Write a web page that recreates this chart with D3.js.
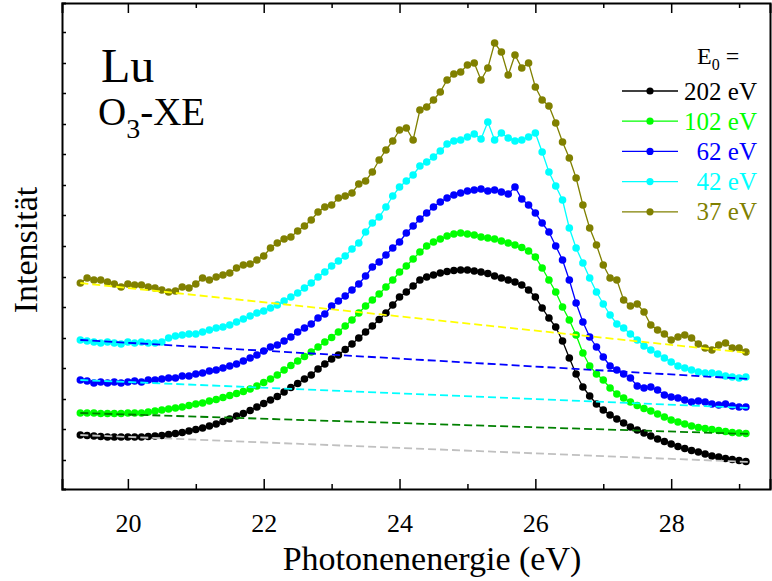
<!DOCTYPE html>
<meta charset="utf-8">
<style>
body { margin: 0; background: #fff; }
text { font-family: "Liberation Serif", "Times New Roman", serif; }
.axis path, .axis line { fill: none; stroke: #000; }
</style>
<div id="chart"></div>
<script src="https://cdn.jsdelivr.net/npm/d3@7/dist/d3.min.js"></script>
<script>

// photon energies (eV) of the sampled points
var energy = [19.3, 19.4, 19.5, 19.6, 19.7, 19.8, 19.9, 20.0, 20.1, 20.2,
  20.3, 20.4, 20.5, 20.6, 20.7, 20.8, 20.9, 21.0, 21.1, 21.2,
  21.3, 21.4, 21.5, 21.6, 21.7, 21.8, 21.9, 22.0, 22.1, 22.2,
  22.3, 22.4, 22.5, 22.6, 22.7, 22.8, 22.9, 23.0, 23.1, 23.2,
  23.3, 23.4, 23.5, 23.6, 23.7, 23.8, 23.9, 24.0, 24.1, 24.2,
  24.3, 24.4, 24.5, 24.6, 24.7, 24.8, 24.9, 25.0, 25.1, 25.2,
  25.3, 25.4, 25.5, 25.6, 25.7, 25.8, 25.9, 26.0, 26.1, 26.2,
  26.3, 26.4, 26.5, 26.6, 26.7, 26.8, 26.9, 27.0, 27.1, 27.2,
  27.3, 27.4, 27.5, 27.6, 27.7, 27.8, 27.9, 28.0, 28.1, 28.2,
  28.3, 28.4, 28.5, 28.6, 28.7, 28.8, 28.9, 29.0, 29.1];

// intensity (arb. units, curves offset as in the figure)
var i202 = [55, 54.5, 54, 53.5, 53, 53, 53, 53, 53, 53,
  53.5, 54, 54.5, 55.5, 56.5, 57.5, 59, 60.5, 62, 64,
  66, 68.5, 71, 74, 76.5, 79.5, 83, 86.5, 90, 93.5,
  98, 102.5, 106.5, 111, 115, 121, 126, 131, 135, 140.5,
  146, 152, 158, 164, 170.5, 177, 185, 193, 198, 204,
  210, 213, 215, 217, 218.5, 219.5, 220, 220, 219, 218,
  216.5, 214, 212, 210, 208, 205, 200, 193, 182, 172,
  163, 149, 132, 116, 103, 94, 86, 80, 75, 71,
  67, 63, 60, 57, 54, 51, 48.5, 46, 43.5, 41.5,
  39.5, 38, 36, 34, 33, 31.5, 30.5, 29.5, 28.5];

var i102 = [77, 77, 77, 76.5, 76.5, 76.5, 76.5, 77, 77, 77,
  78, 79, 80, 81, 82, 83, 84.5, 86, 87, 89,
  90.5, 92.5, 94.5, 96.5, 98.5, 101, 104, 107.5, 111, 115,
  120, 124.5, 129, 133.5, 138, 143, 148, 152.5, 158, 164,
  170, 177, 184, 190, 196, 203, 210, 218, 224, 231,
  238, 244, 248, 251, 254, 256, 257, 256, 255, 253,
  252, 251, 249, 247, 245, 242.5, 239, 233, 222, 210,
  198, 183, 170, 155, 137, 124, 116, 110, 102, 96,
  92, 88, 84.5, 81.5, 79, 76, 73, 70, 68, 66,
  64, 62.5, 61.5, 60.5, 59.5, 58.5, 57.5, 57, 56.5];

var i62 = [110, 109, 107, 108, 107, 108, 107, 108, 109, 108,
  110, 110, 111, 112, 112, 114, 114, 116, 117, 119,
  120, 122, 124, 126, 129, 132, 135, 139, 143, 145,
  149, 153, 158, 162, 166, 172, 176, 184, 189, 194,
  200, 206, 214, 223, 228, 235, 242, 248, 257, 264,
  271, 277, 283, 288, 292, 295, 297, 299, 300, 301,
  299, 300, 298, 296, 303, 291, 285, 277, 267, 258,
  244, 230, 210, 187, 168, 153, 143, 133, 124, 120,
  116, 112, 104, 102, 103, 100, 95, 93, 92, 90,
  88, 89, 88, 86, 85, 86, 84, 83, 83];

var i42 = [150, 149, 148, 147, 148, 147, 146, 148, 147, 148,
  147, 147, 148, 152, 154, 155, 156, 156, 158, 160,
  162, 163, 165, 168, 171, 174, 177, 179, 182, 185,
  189, 193, 197, 202, 207, 213, 218, 224, 229, 234,
  241, 247, 258, 267, 273, 283, 294, 303, 309, 315,
  324, 328, 333, 339, 346, 349, 350, 353, 356, 351,
  368, 350, 357, 352, 349, 350, 353, 357, 338, 318,
  304, 290, 262, 242, 227, 212, 198, 186, 175, 166,
  162, 156, 150, 144, 140, 136, 132, 128, 124, 122,
  120, 118, 117, 117, 116, 114, 113, 112, 113];

var i37 = [207, 212, 210, 210, 208, 206, 203, 206, 205, 205,
  203, 202, 200, 198, 199, 203, 202, 206, 212, 210,
  213, 215, 217, 222, 225, 226, 230, 234, 242, 247,
  251, 253, 259, 264, 270, 278, 283, 285, 292, 294,
  297, 306, 309, 318, 330, 340, 349, 360, 362, 350,
  380, 383, 390, 398, 410, 416, 418, 425, 427, 410,
  422, 447, 438, 415, 435, 422, 427, 403, 390, 384,
  367, 348, 332, 312, 285, 262, 245, 225, 212, 210,
  190, 184, 186, 178, 165, 160, 156, 150, 153, 155,
  152, 146, 142, 140, 145, 147, 142, 142, 138];

// linear backgrounds: [start energy, start value, end energy, end value]
var bg202 = [19.3, 55, 29.15, 28];
var bg102 = [19.3, 77, 29.15, 56];
var bg62 = [19.3, 110, 29.15, 82];
var bg42 = [19.3, 150, 29.15, 111];
var bg37 = [19.3, 207, 29.15, 137];

var legendLabels = ["202 eV", "102 eV", "62 eV", "42 eV", "37 eV"];
var xTicks = [20, 22, 24, 26, 28];
var xMinor = [21, 23, 25, 27, 29];
var yTicks = [30, 61, 91, 122, 152, 183, 213, 244, 275, 305, 336, 366, 397, 427, 458];

var series = [
  {label: legendLabels[4], values: i37, bg: bg37, color: "#808000", bgColor: "#ffff00"},
  {label: legendLabels[3], values: i42, bg: bg42, color: "#00ffff", bgColor: "#0000ff"},
  {label: legendLabels[2], values: i62, bg: bg62, color: "#0000ff", bgColor: "#00ffff"},
  {label: legendLabels[1], values: i102, bg: bg102, color: "#00ff00", bgColor: "#008000"},
  {label: legendLabels[0], values: i202, bg: bg202, color: "#000000", bgColor: "#c0c0c0"}
];

var width = 772, height = 581;
var svg = d3.select("#chart").append("svg")
  .attr("width", width)
  .attr("height", height);

var x = d3.scaleLinear().domain([19.03, 29.455]).range([62, 770]);
var y = d3.scaleLinear().domain([1, 487]).range([489, 3]);

// curves
var line = d3.line()
  .x(function(d) { return x(d[0]); })
  .y(function(d) { return y(d[1]); });

series.forEach(function(s) {
  var pts = energy.map(function(e, i) { return [e, s.values[i]]; });
  var g = svg.append("g");
  g.append("path")
    .datum(pts)
    .attr("d", line)
    .attr("fill", "none")
    .attr("stroke", s.color)
    .attr("stroke-width", 1.3);
  g.selectAll("circle")
    .data(pts)
    .enter().append("circle")
      .attr("cx", function(d) { return x(d[0]); })
      .attr("cy", function(d) { return y(d[1]); })
      .attr("r", 3.8)
      .attr("fill", s.color);
});

// dashed backgrounds on top
series.forEach(function(s) {
  svg.append("line")
    .attr("x1", x(s.bg[0])).attr("y1", y(s.bg[1]))
    .attr("x2", x(s.bg[2])).attr("y2", y(s.bg[3]))
    .attr("stroke", s.bgColor)
    .attr("stroke-width", 1.8)
    .attr("stroke-dasharray", "8,4");
});

// axes
svg.append("g")
  .attr("class", "axis")
  .attr("transform", "translate(0,489)")
  .call(d3.axisBottom(x).tickValues(xTicks).tickSize(-10).tickPadding(25).tickFormat(d3.format("d")))
  .call(function(g) {
    g.attr("font-family", null);
    g.select(".domain").attr("stroke-width", 2);
    g.selectAll(".tick line").attr("stroke-width", 1.5);
    g.selectAll("text").attr("font-size", 26).attr("fill", "#000");
  });

svg.append("g")
  .attr("class", "axis")
  .attr("transform", "translate(0,489)")
  .call(d3.axisBottom(x).tickValues(xMinor).tickSize(-5).tickFormat(""))
  .call(function(g) { g.select(".domain").remove(); g.selectAll(".tick line").attr("stroke-width", 1.5); });

svg.append("g")
  .attr("class", "axis")
  .attr("transform", "translate(0,3)")
  .call(d3.axisTop(x).tickValues(xTicks).tickSize(-10).tickFormat(""))
  .call(function(g) {
    g.select(".domain").attr("stroke-width", 2);
    g.selectAll(".tick line").attr("stroke-width", 1.5);
  });

svg.append("g")
  .attr("class", "axis")
  .attr("transform", "translate(0,3)")
  .call(d3.axisTop(x).tickValues(xMinor).tickSize(-5).tickFormat(""))
  .call(function(g) { g.select(".domain").remove(); g.selectAll(".tick line").attr("stroke-width", 1.5); });

svg.append("g")
  .attr("class", "axis")
  .attr("transform", "translate(62,0)")
  .call(d3.axisLeft(y).tickValues(yTicks).tickSize(-4).tickFormat(""))
  .call(function(g) {
    g.select(".domain").attr("stroke-width", 2);
    g.selectAll(".tick line").attr("stroke-width", 1.5);
  });

svg.append("g")
  .attr("class", "axis")
  .attr("transform", "translate(770,0)")
  .call(d3.axisRight(y).tickValues([]).tickSize(0))
  .call(function(g) { g.select(".domain").attr("stroke-width", 2); });

// axis titles
svg.append("text")
  .attr("x", 432).attr("y", 570)
  .attr("text-anchor", "middle")
  .attr("font-size", 34)
  .text("Photonenenergie (eV)");

svg.append("text")
  .attr("transform", "translate(37,250) rotate(-90)")
  .attr("text-anchor", "middle")
  .attr("font-size", 34)
  .text("Intensität");

// sample labels
svg.append("text")
  .attr("x", 101).attr("y", 82)
  .attr("font-size", 48)
  .text("Lu");

var o3 = svg.append("text")
  .attr("x", 98).attr("y", 125)
  .attr("font-size", 39);
o3.append("tspan").text("O");
o3.append("tspan").attr("font-size", 28).attr("dy", 13).text("3");
o3.append("tspan").attr("dy", -13).text("-XE");

// legend
var e0 = svg.append("text")
  .attr("x", 697).attr("y", 64)
  .attr("font-size", 24);
e0.append("tspan").text("E");
e0.append("tspan").attr("font-size", 16).attr("dy", 6).text("0");
e0.append("tspan").attr("dy", -6).text(" =");

var legendOrder = series.slice().reverse();
var leg = svg.append("g").selectAll("g")
  .data(legendOrder)
  .enter().append("g")
    .attr("transform", function(d, i) { return "translate(0," + (91 + i * 30.2) + ")"; });

leg.append("line")
  .attr("x1", 622).attr("x2", 678)
  .attr("stroke", function(d) { return d.color; })
  .attr("stroke-width", 1.3);
leg.append("circle")
  .attr("cx", 650).attr("r", 3.6)
  .attr("fill", function(d) { return d.color; });
leg.append("text")
  .attr("x", 757).attr("y", 8.5)
  .attr("text-anchor", "end")
  .attr("font-size", 25)
  .attr("fill", function(d) { return d.color; })
  .text(function(d) { return d.label; });

</script>
